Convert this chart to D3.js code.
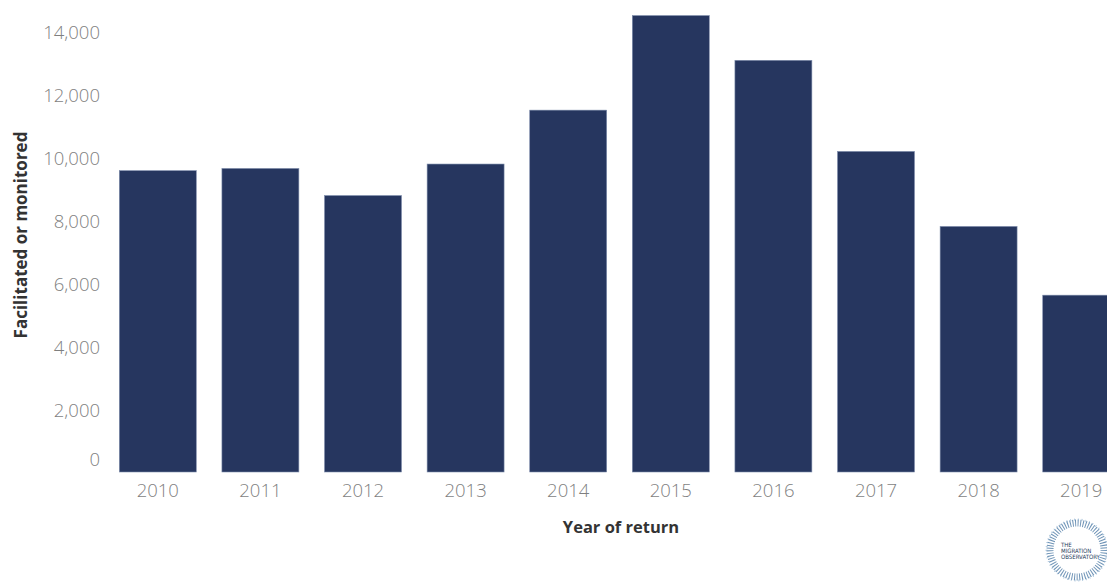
<!DOCTYPE html>
<html lang="en">
<head>
    <meta charset="UTF-8">
    <title>Returns by year</title>
    <script src="https://d3js.org/d3.v7.min.js"></script>
    <style>
        body { margin: 0; background: #fff; }
        svg { display: block; }
    </style>
</head>
<body>
    <svg id="chart" width="1107" height="583"></svg>
    <script>
// values
const years = ["2010", "2011", "2012", "2013", "2014", "2015", "2016", "2017", "2018", "2019"];
const returns = [9560, 9630, 8770, 9770, 11480, 14480, 13060, 10170, 7790, 5610];
const yTicks = [0, 2000, 4000, 6000, 8000, 10000, 12000, 14000];

const svg = d3.select("#chart");
const font = "'Open Sans', 'DejaVu Sans', sans-serif";

// x: bars 77px wide on a 102.6px step, last bar runs off the right edge
const x = d3.scaleBand()
    .domain(years)
    .range([106.5, 1132.5])
    .paddingInner(0.25)
    .paddingOuter(0.125);

const y = d3.scaleLinear()
    .domain([0, 14000])
    .range([472, 30.7]);

// bars
svg.append("g")
    .selectAll("rect")
    .data(years)
    .enter().append("rect")
    .attr("x", d => x(d))
    .attr("y", (d, i) => y(returns[i]))
    .attr("width", x.bandwidth())
    .attr("height", (d, i) => y(0) - y(returns[i]))
    .style("fill", "#26365f")
    .style("stroke", "#7d8cab")
    .style("stroke-width", 0.6);

// y axis (labels only, no line)
const yAxis = svg.append("g")
    .attr("transform", "translate(100,0)")
    .call(d3.axisLeft(y).tickValues(yTicks).tickSize(0).tickPadding(0).tickFormat(d3.format(",")));
yAxis.select(".domain").remove();
yAxis.selectAll("text")
    .attr("dy", "0.35em")
    .attr("y", d => d === 0 ? -13 : 1.5)
    .style("font-family", font)
    .style("font-size", "18.5px")
    .style("font-weight", 300)
    .style("fill", "#7f7f7f");

// x axis (labels only)
const xAxis = svg.append("g")
    .attr("transform", "translate(0,472)")
    .call(d3.axisBottom(x).tickSize(0).tickPadding(0));
xAxis.select(".domain").remove();
xAxis.selectAll("text")
    .attr("y", 18.5)
    .attr("dy", "0.35em")
    .style("font-family", font)
    .style("font-size", "18.5px")
    .style("font-weight", 300)
    .style("fill", "#7f7f7f");

// axis titles
svg.append("text")
    .attr("x", 621)
    .attr("y", 533)
    .attr("text-anchor", "middle")
    .style("font-family", font)
    .style("font-size", "16.5px")
    .style("font-weight", "bold")
    .style("fill", "#333")
    .text("Year of return");

svg.append("text")
    .attr("transform", "translate(26.5,235) rotate(-90)")
    .attr("text-anchor", "middle")
    .style("font-family", font)
    .style("font-size", "17px")
    .style("font-weight", "bold")
    .style("fill", "#333")
    .text("Facilitated or monitored");

// small logo, bottom right
const logo = svg.append("g").attr("transform", "translate(1077,550)");
logo.append("circle")
    .attr("r", 27)
    .style("fill", "none")
    .style("stroke", "#3d6f9e")
    .style("stroke-width", 7)
    .style("stroke-dasharray", "1 1.6")
    .style("opacity", 0.75);
logo.append("circle")
    .attr("r", 30.5)
    .style("fill", "none")
    .style("stroke", "#8fb2cf")
    .style("stroke-width", 2)
    .style("stroke-dasharray", "0.8 3")
    .style("opacity", 0.8);
logo.append("circle")
    .attr("r", 23)
    .style("fill", "#fff");
const logoText = logo.append("text")
    .attr("text-anchor", "start")
    .style("font-family", "'DejaVu Sans Condensed', 'DejaVu Sans', sans-serif")
    .style("font-size", "6px")
    .style("fill", "#1f3a5a");
logoText.append("tspan").attr("x", -16).attr("y", -3).text("THE");
logoText.append("tspan").attr("x", -16).attr("y", 3).text("MIGRATION");
logoText.append("tspan").attr("x", -16).attr("y", 9).text("OBSERVATORY");
    </script>
</body>
</html>
